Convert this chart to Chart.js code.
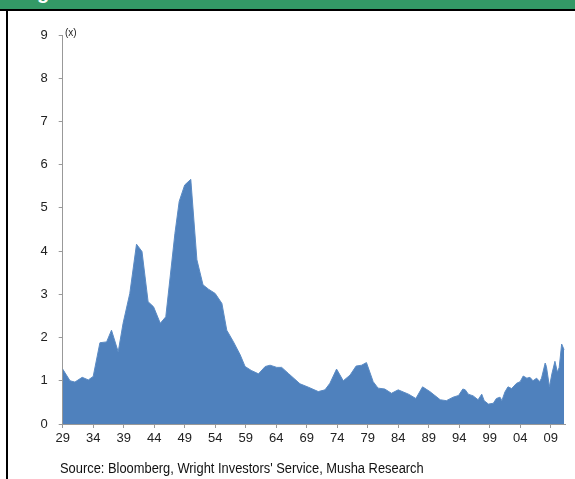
<!DOCTYPE html>
<html>
<head>
<meta charset="utf-8">
<script src="https://cdn.jsdelivr.net/npm/chart.js@4"></script>
<style>
  body { margin: 0; background: #fff; width: 575px; height: 479px; overflow: hidden; position: relative; font-family: "Liberation Sans", Arial, sans-serif; }
  #head { position: absolute; left: 0; top: 0; width: 575px; height: 9px; background: #339966; border-bottom: 2px solid #000; overflow: hidden; }
  #head span { position: absolute; left: 37px; top: -19px; color: #fff; font: bold 20px "Liberation Sans", Arial, sans-serif; }
  #side { position: absolute; left: 6px; top: 9px; width: 2px; height: 470px; background: #000; }
  #unit { position: absolute; left: 65px; top: 27px; font-size: 10px; color: #222; }
  #src { position: absolute; left: 60px; top: 460px; font-size: 14px; color: #111; white-space: nowrap; transform: scaleX(0.92); transform-origin: left top; }
  canvas { position: absolute; left: 0; top: 0; }
</style>
</head>
<body>
<div id="head"><span>g</span></div>
<div id="side"></div>
<canvas id="chart" width="575" height="479"></canvas>
<div id="unit">(x)</div>
<div id="src">Source: Bloomberg, Wright Investors' Service, Musha Research</div>
<script>
// годы (дробные) и значения
const years = [1929.0, 1930.2, 1931.0, 1932.2, 1933.2, 1934.0, 1935.1, 1936.2, 1937.0, 1938.1,
  1938.9, 1940.0, 1941.1, 1942.0, 1943.0, 1943.9, 1945.0, 1945.9, 1947.4, 1948.1,
  1949.0, 1950.0, 1951.0, 1952.0, 1952.9, 1954.0, 1955.1, 1955.9, 1957.0, 1958.1,
  1958.9, 1959.9, 1961.1, 1962.2, 1963.0, 1964.1, 1964.9, 1966.0, 1967.9, 1969.3,
  1970.9, 1972.0, 1972.8, 1973.9, 1975.0, 1976.1, 1977.1, 1978.0, 1978.8, 1979.9,
  1980.7, 1981.8, 1982.9, 1984.0, 1985.7, 1986.9, 1988.0, 1989.2, 1990.9, 1991.9,
  1993.0, 1993.9, 1994.6, 1995.0, 1995.5, 1996.3, 1997.1, 1997.7, 1998.1, 1998.8,
  1999.6, 2000.1, 2000.7, 2001.0, 2001.5, 2002.0, 2002.6, 2003.4, 2004.0, 2004.5,
  2005.1, 2005.6, 2006.1, 2006.7, 2007.2, 2007.5, 2008.1, 2008.3, 2008.8, 2009.2,
  2009.7, 2010.1, 2010.4, 2010.8, 2011.2];
const ratios = [1.27, 1.00, 0.97, 1.08, 1.02, 1.10, 1.88, 1.90, 2.17, 1.67,
  2.33, 3.02, 4.16, 3.99, 2.83, 2.71, 2.33, 2.48, 4.41, 5.15,
  5.53, 5.66, 3.80, 3.22, 3.12, 3.02, 2.79, 2.17, 1.90, 1.60,
  1.33, 1.24, 1.16, 1.33, 1.36, 1.31, 1.31, 1.17, 0.93, 0.85,
  0.75, 0.79, 0.94, 1.27, 1.00, 1.13, 1.34, 1.36, 1.42, 0.98,
  0.83, 0.81, 0.71, 0.79, 0.69, 0.59, 0.86, 0.75, 0.56, 0.54,
  0.62, 0.66, 0.81, 0.79, 0.69, 0.65, 0.56, 0.69, 0.54, 0.46,
  0.48, 0.59, 0.62, 0.54, 0.74, 0.86, 0.82, 0.94, 0.98, 1.11,
  1.06, 1.08, 1.00, 1.06, 0.98, 1.06, 1.41, 1.33, 0.86, 1.16,
  1.45, 1.20, 1.31, 1.85, 1.72];

const tickYears = [1929, 1934, 1939, 1944, 1949, 1954, 1959, 1964, 1969, 1974,
  1979, 1984, 1989, 1994, 1999, 2004, 2009];

const axisColor = '#999';
const tickFont = { family: "'Liberation Sans Narrow', 'Liberation Sans', Arial, sans-serif", size: 13 };

const ctx = document.getElementById('chart').getContext('2d');
new Chart(ctx, {
    type: 'line',
    data: {
        datasets: [{
            data: years.map((y, i) => ({ x: y, y: ratios[i] })),
            fill: 'origin',
            backgroundColor: '#4F81BD',
            borderColor: '#5B8BC4',
            borderWidth: 1,
            pointRadius: 0,
            tension: 0
        }]
    },
    options: {
        responsive: false,
        animation: false,
        layout: { padding: { left: 10, right: 10, top: 35, bottom: 25 } },
        plugins: { legend: { display: false }, tooltip: { enabled: false } },
        scales: {
            x: {
                type: 'linear',
                min: 1929,
                max: 2011.35,
                afterBuildTicks: scale => { scale.ticks = tickYears.map(v => ({ value: v })); },
                afterFit: scale => { scale.height = 30; },
                grid: { drawOnChartArea: false, drawTicks: true, tickLength: 4, color: axisColor },
                border: { display: true, color: axisColor },
                ticks: {
                    color: '#222',
                    font: tickFont,
                    padding: 3,
                    maxRotation: 0,
                    autoSkip: false,
                    callback: v => String(v).slice(2)
                }
            },
            y: {
                min: 0,
                max: 9,
                afterFit: scale => { scale.width = 52.7; },
                grid: { drawOnChartArea: false, drawTicks: true, tickLength: 4, color: axisColor },
                border: { display: true, color: axisColor },
                ticks: { stepSize: 1, color: '#222', font: tickFont, padding: 11 }
            }
        }
    }
});
</script>
</body>
</html>
